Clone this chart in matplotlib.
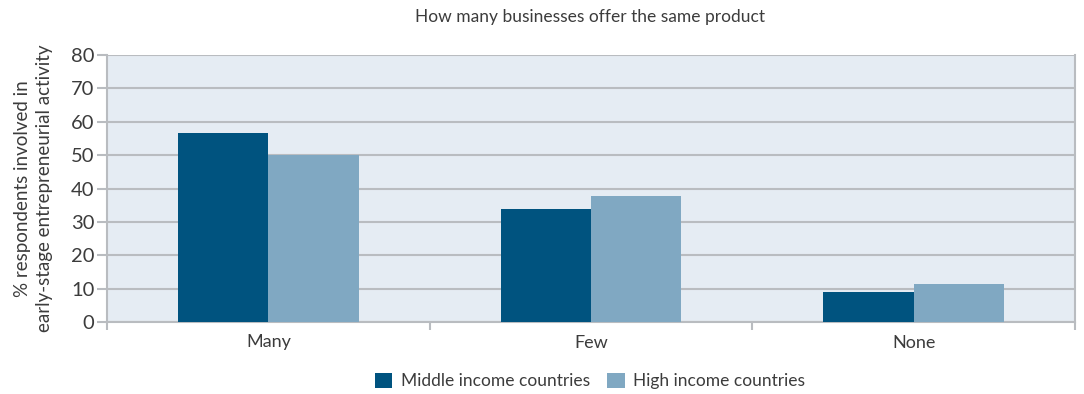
import matplotlib.pyplot as plt
import numpy as np

plt.rcParams['font.family'] = ['Lato', 'DejaVu Sans']

categories = ["Many", "Few", "None"]
middle_income = [56.6, 33.8, 9.0]
high_income = [50.0, 37.7, 11.4]

dark_blue = "#00537f"
light_blue = "#80a8c2"
text_col = "#3c3c3c"

fig = plt.figure(figsize=(10.84, 3.94), dpi=100)
ax = fig.add_axes([107 / 1084, 1 - 322 / 394, (1075 - 107) / 1084, (322 - 55) / 394])

x = np.arange(len(categories))
w = 0.28
ax.bar(x - w / 2, middle_income, w, color=dark_blue, label="Middle income countries", zorder=3)
ax.bar(x + w / 2, high_income, w, color=light_blue, label="High income countries", zorder=3)

ax.set_facecolor("#e5ecf3")
ax.set_xlim(-0.5, 2.5)
ax.set_ylim(0, 80)
ax.set_yticks(range(0, 81, 10))
ax.yaxis.grid(True, color="#b9bcc0", linewidth=1.5, zorder=1)

# category separators as tick marks below the axis
ax.set_xticks([-0.5, 0.5, 1.5, 2.5])
ax.set_xticklabels([])
ax.set_xticks(x, minor=True)
ax.set_xticklabels(categories, minor=True, fontsize=13, color=text_col)
ax.tick_params(axis="x", which="major", length=6, color="#b9bcc0", width=1.5)
ax.tick_params(axis="x", which="minor", length=0, pad=9)
ax.tick_params(axis="y", length=7, color="#b9bcc0", width=1.5, labelsize=14.5,
               labelcolor=text_col, pad=2)

ax.spines["top"].set_visible(False)
for side in ["right", "bottom", "left"]:
    ax.spines[side].set_color("#b9bcc0")
    ax.spines[side].set_linewidth(1.5)

ax.set_ylabel("% respondents involved in\nearly-stage entrepreneurial activity",
              fontsize=13.5, color=text_col, linespacing=1.35, labelpad=13)
fig.text(590 / 1084, 1 - 17 / 394, "How many businesses offer the same product",
         ha="center", va="center", fontsize=12.5, color=text_col)

fig.legend(loc="center", bbox_to_anchor=(590 / 1084, 1 - 381 / 394), ncol=2,
           frameon=False, fontsize=12.5, handlelength=1.0, handleheight=1.0,
           columnspacing=1.0, handletextpad=0.5, labelcolor=text_col)

fig.savefig("out.png", dpi=100)
